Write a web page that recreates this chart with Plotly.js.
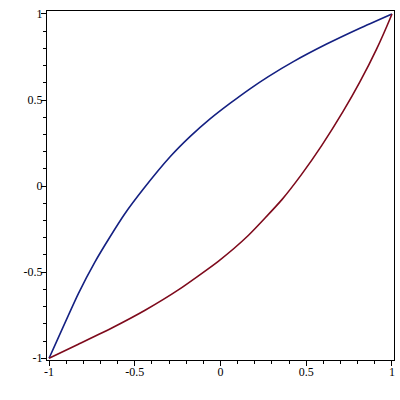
<!DOCTYPE html>
<html>
<head>
<meta charset="utf-8">
<script src="https://cdn.plot.ly/plotly-3.0.1.min.js"></script>
<style>html,body{margin:0;padding:0;background:#fff}#plot{width:400px;height:400px}</style>
</head>
<body>
<div id="plot"></div>
<script>
// Upper (blue) curve
var blueX = [-1, -0.829, -0.732, -0.654, -0.557, -0.45, -0.294, -0.178, -0.061, 0.055, 0.172, 0.279, 0.425, 0.619, 0.813, 1];
var blueY = [-1, -0.624, -0.44, -0.31, -0.159, -0.017, 0.17, 0.287, 0.39, 0.48, 0.565, 0.636, 0.723, 0.825, 0.917, 1];
// Lower (dark red) curve
var redX = [-1, -0.829, -0.634, -0.44, -0.246, -0.013, 0.162, 0.357, 0.473, 0.59, 0.716, 0.813, 0.911, 0.99, 1];
var redY = [-1, -0.918, -0.824, -0.721, -0.603, -0.437, -0.287, -0.08, 0.068, 0.235, 0.435, 0.605, 0.797, 0.975, 1];
// Tick labels
var tickVals = [-1, -0.5, 0, 0.5, 1];
var tickText = ["-1", "-0.5", "0", "0.5", "1"];

var traces = [
  {x: blueX, y: blueY, mode: 'lines', line: {color: '#142082', width: 1.6, shape: 'spline', smoothing: 0.5}, hoverinfo: 'skip'},
  {x: redX, y: redY, mode: 'lines', line: {color: '#7e0a1c', width: 1.6, shape: 'spline', smoothing: 0.5}, hoverinfo: 'skip'}
];

var axisCommon = {
  showgrid: false, zeroline: false,
  showline: true, mirror: true, linecolor: '#000', linewidth: 1,
  ticks: 'outside', ticklen: 5, tickwidth: 1, tickcolor: '#000',
  tickmode: 'array', tickvals: tickVals, ticktext: tickText,
  ticklabelstandoff: -4,
  minor: {tickmode: 'linear', dtick: 0.1, tick0: 0, ticks: 'outside', ticklen: 3, tickcolor: '#000', tickwidth: 1, showgrid: false},
  tickfont: {family: 'Liberation Serif', size: 12, color: '#000'}
};

var layout = {
  width: 400, height: 400,
  margin: {l: 47, r: 6, t: 11, b: 40},
  paper_bgcolor: '#fff', plot_bgcolor: '#fff',
  showlegend: false,
  xaxis: Object.assign({}, axisCommon, {range: [-1.012, 1.012]}),
  yaxis: Object.assign({}, axisCommon, {range: [-1.01, 1.017]})
};

Plotly.newPlot('plot', traces, layout, {staticPlot: true, displayModeBar: false});
</script>
</body>
</html>
